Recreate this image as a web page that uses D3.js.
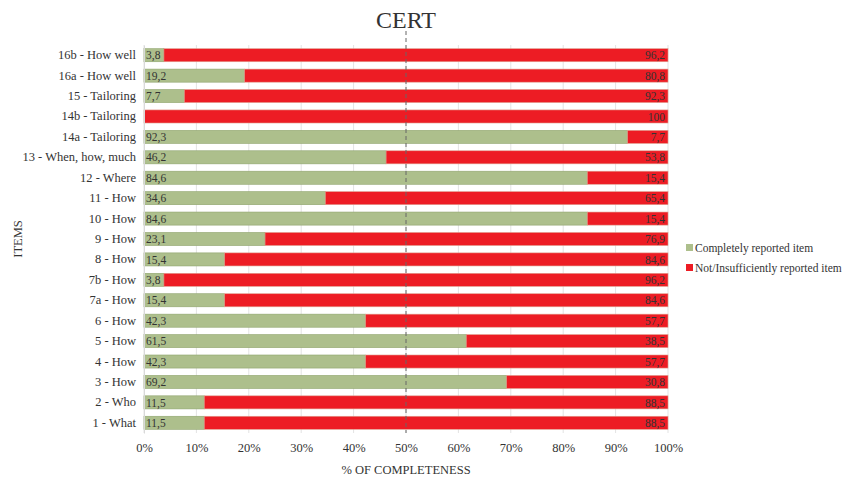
<!DOCTYPE html>
<html>
<head>
<meta charset="utf-8">
<script src="https://cdn.jsdelivr.net/npm/d3@7"></script>
<style>
  body { margin: 0; background: #fff; }
  text { font-family: "Liberation Serif", "DejaVu Serif", serif; fill: #333; }
</style>
</head>
<body>
<svg id="chart" width="855" height="480"></svg>
<script>
// items from top to bottom
var items = ["16b - How well", "16a - How well", "15 - Tailoring", "14b - Tailoring", "14a - Tailoring",
    "13 - When, how, much", "12 - Where", "11 - How", "10 - How", "9 - How", "8 - How", "7b - How",
    "7a - How", "6 - How", "5 - How", "4 - How", "3 - How", "2 - Who", "1 - What"];
var complete = [3.8, 19.2, 7.7, 0, 92.3, 46.2, 84.6, 34.6, 84.6, 23.1, 15.4, 3.8, 15.4, 42.3, 61.5, 42.3, 69.2, 11.5, 11.5];
var notComplete = [96.2, 80.8, 92.3, 100, 7.7, 53.8, 15.4, 65.4, 15.4, 76.9, 84.6, 96.2, 84.6, 57.7, 38.5, 57.7, 30.8, 88.5, 88.5];
var xTicks = [0, 10, 20, 30, 40, 50, 60, 70, 80, 90, 100];
var seriesNames = ["Completely reported item", "Not/Insufficiently reported item"];
var colors = ["#adbf8c", "#ed1c24"];

var margin = {top: 45, left: 144, right: 187, bottom: 47};
var width = 855 - margin.left - margin.right,
    height = 480 - margin.top - margin.bottom;
var serif = "'Liberation Serif', 'DejaVu Serif', serif";

var svg = d3.select("#chart");
var g = svg.append("g").attr("transform", "translate(" + margin.left + "," + margin.top + ")");

var x = d3.scaleLinear().domain([0, 100]).range([0, width]);
var y = d3.scaleBand().domain(items).range([0, height]).paddingInner(0.36).paddingOuter(0.18);

var fmt = function (v) { return String(v).replace(".", ","); };

// gridlines
g.selectAll(".grid").data(xTicks).enter().append("line")
    .attr("x1", function (d) { return x(d); })
    .attr("x2", function (d) { return x(d); })
    .attr("y1", 0).attr("y2", height)
    .attr("stroke", "#e3e3e3").attr("stroke-width", 1);

var rows = items.map(function (d, i) {
    return {item: d, a: complete[i], b: notComplete[i]};
});

// completely reported
g.selectAll(".barA").data(rows.filter(function (d) { return d.a > 0; })).enter().append("rect")
    .attr("x", x(0))
    .attr("y", function (d) { return y(d.item); })
    .attr("width", function (d) { return x(d.a) - x(0); })
    .attr("height", y.bandwidth())
    .attr("fill", colors[0])
    .attr("stroke", "#8fa46d").attr("stroke-width", 0.6);

// not reported
g.selectAll(".barB").data(rows).enter().append("rect")
    .attr("x", function (d) { return x(d.a); })
    .attr("y", function (d) { return y(d.item); })
    .attr("width", function (d) { return x(d.a + d.b) - x(d.a); })
    .attr("height", y.bandwidth())
    .attr("fill", colors[1])
    .attr("stroke", "#e0a090").attr("stroke-width", 0.6);

// value labels
g.selectAll(".labA").data(rows.filter(function (d) { return d.a > 0; })).enter().append("text")
    .attr("x", x(0) + 2)
    .attr("y", function (d) { return y(d.item) + y.bandwidth() / 2; })
    .attr("dy", "0.36em")
    .attr("font-size", 11.5)
    .text(function (d) { return fmt(d.a); });

g.selectAll(".labB").data(rows).enter().append("text")
    .attr("x", x(100) - 3)
    .attr("y", function (d) { return y(d.item) + y.bandwidth() / 2; })
    .attr("dy", "0.36em")
    .attr("text-anchor", "end")
    .attr("font-size", 11.5)
    .text(function (d) { return fmt(d.b); });

// 50% dashed line
g.append("line")
    .attr("x1", x(50)).attr("x2", x(50))
    .attr("y1", -14).attr("y2", height)
    .attr("stroke", "#666").attr("stroke-width", 1)
    .attr("stroke-dasharray", "4,3");

// y axis
var yAxis = g.append("g").call(d3.axisLeft(y).tickSize(0).tickPadding(8))
    .attr("font-family", serif);
yAxis.select(".domain").attr("stroke", "#d9d9d9");
yAxis.selectAll("text").attr("font-size", 12.5).attr("fill", "#333").style("font-family", serif);

// x axis
var xAxis = g.append("g").attr("transform", "translate(0," + height + ")")
    .call(d3.axisBottom(x).tickValues(xTicks).tickSize(0).tickPadding(10)
        .tickFormat(function (d) { return d + "%"; }))
    .attr("font-family", serif);
xAxis.select(".domain").remove();
xAxis.selectAll("text").attr("font-size", 12.5).attr("fill", "#333").style("font-family", serif);

// titles
svg.append("text").attr("x", margin.left + x(50)).attr("y", 28)
    .attr("text-anchor", "middle").attr("font-size", 24).text("CERT");

svg.append("text").attr("x", margin.left + x(50)).attr("y", 474)
    .attr("text-anchor", "middle").attr("font-size", 12.5).text("% OF COMPLETENESS");

svg.append("text")
    .attr("transform", "translate(22," + (margin.top + height / 2) + ") rotate(-90)")
    .attr("text-anchor", "middle").attr("font-size", 12.5).text("ITEMS");

// legend
var legend = svg.append("g").attr("transform", "translate(686,248)");
seriesNames.forEach(function (name, i) {
    var row = legend.append("g").attr("transform", "translate(0," + (i * 20) + ")");
    row.append("rect").attr("x", 0).attr("y", -4).attr("width", 7).attr("height", 7).attr("fill", colors[i]);
    row.append("text").attr("x", 9).attr("y", 0).attr("dy", "0.36em")
        .attr("font-size", 11.5).text(name);
});
</script>
</body>
</html>
